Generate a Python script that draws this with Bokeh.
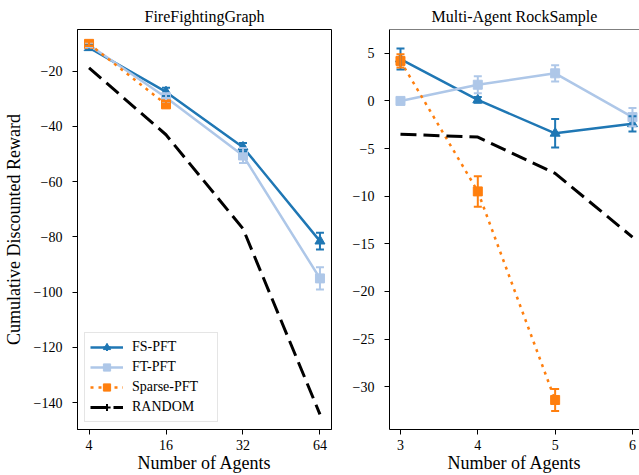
from bokeh.plotting import figure
from bokeh.models import (ColumnDataSource, Whisker, TeeHead, FixedTicker, Legend,
                          LegendItem, Range1d, Span)
from bokeh.layouts import row
from bokeh.embed import file_html
from bokeh.resources import INLINE

FONT = "Liberation Serif"

# ---------------- data ----------------
ff_agents = ["4", "16", "32", "64"]
ff_fs_mean = [-11.5, -27.5, -47.5, -81.5]
ff_fs_err = [0.8, 1.5, 1.5, 3.0]
ff_ft_mean = [-10.5, -29.5, -50.5, -95.0]
ff_ft_err = [0.8, 1.5, 2.7, 4.0]
ff_sparse_agents = ["4", "16"]
ff_sparse_mean = [-10.1, -32.0]
ff_sparse_err = [0.8, 1.2]
ff_random = [-18.8, -43.0, -77.0, -144.2]
ff_yticks = [-140, -120, -100, -80, -60, -40, -20]

rs_agents = [3, 4, 5, 6]
rs_fs_mean = [4.4, 0.1, -3.4, -2.4]
rs_fs_err = [1.1, 0.3, 1.5, 0.8]
rs_ft_mean = [0.0, 1.7, 2.9, -1.7]
rs_ft_err = [0.3, 0.9, 0.85, 0.95]
rs_sparse_agents = [3, 4, 5]
rs_sparse_mean = [4.2, -9.5, -31.4]
rs_sparse_err = [0.7, 1.6, 1.15]
rs_random = [-3.5, -3.8, -7.6, -14.3]
rs_yticks = [-30, -25, -20, -15, -10, -5, 0, 5]

C_FS = "#1f77b4"
C_FT = "#aec7e8"
C_SP = "#ff7f0e"
C_RD = "#000000"

H = 475


def minus(v):
    return ("\u2212" + str(abs(v))) if v < 0 else str(v)


def make_fig(width, min_left, min_right, xr, yr, title):
    p = figure(width=width, height=H, x_range=xr, y_range=yr,
               output_backend="svg", toolbar_location=None,
               min_border_left=min_left, min_border_right=min_right,
               min_border_top=27, min_border_bottom=46)
    p.title.text = title
    p.title.align = "center"
    p.title.text_font = FONT
    p.title.text_font_size = "16px"
    p.title.text_font_style = "normal"
    p.title.text_color = "black"
    p.title.standoff = 10
    p.xgrid.visible = False
    p.ygrid.visible = False
    p.outline_line_color = "black"
    p.outline_line_width = 1
    p.outline_line_alpha = 1
    for ax in (p.xaxis[0], p.yaxis[0]):
        ax.axis_line_color = "black"
        ax.major_tick_line_color = "black"
        ax.major_tick_in = 0
        ax.major_tick_out = 5
        ax.minor_tick_line_color = None
        ax.major_label_text_font = FONT
        ax.major_label_text_font_size = "14px"
        ax.major_label_text_color = "black"
        ax.axis_label_text_font = FONT
        ax.axis_label_text_font_size = "18px"
        ax.axis_label_text_font_style = "normal"
        ax.axis_label_text_color = "black"
    p.xaxis.major_label_standoff = 5
    p.xaxis.axis_label = "Number of Agents"
    p.xaxis.axis_label_text_line_height = 0.65
    p.xaxis.axis_label_standoff = 0
    p.yaxis.major_label_standoff = 10
    p.yaxis.axis_label_standoff = 7
    return p


def draw_series(p, x, mean, err, color, marker, msize, dash, lw):
    src = ColumnDataSource(dict(
        x=x, y=mean,
        upper=[m + e for m, e in zip(mean, err)],
        lower=[m - e for m, e in zip(mean, err)]))
    ln = p.line("x", "y", source=src, line_color=color, line_width=lw,
                line_dash=dash)
    wk = Whisker(source=src, base="x", upper="upper", lower="lower",
                 dimension="height", line_color=color, line_width=2,
                 level="glyph",
                 upper_head=TeeHead(size=8, line_color=color, line_width=2),
                 lower_head=TeeHead(size=8, line_color=color, line_width=2))
    p.add_layout(wk)
    mk = p.scatter("x", "y", source=src, marker=marker, size=msize,
                   fill_color=color, line_color=color)
    return ln, mk


def legend_bar(p, color):
    s = ColumnDataSource(dict(x=[float("nan")], y=[float("nan")]))
    return p.scatter("x", "y", source=s, marker="cross", size=10,
                     line_color=color, line_width=2)


# ---------------- left panel ----------------
ff_x = list(range(len(ff_agents)))
ff_sx = [ff_agents.index(a) for a in ff_sparse_agents]
left = make_fig(341, 77, 10, Range1d(-0.15, 3.15), Range1d(-149.7, -4.9),
                "FireFightingGraph")
left.yaxis.axis_label = "Cumulative Discounted Reward"
left.xaxis.ticker = FixedTicker(ticks=ff_x)
left.xaxis.major_label_overrides = {i: a for i, a in zip(ff_x, ff_agents)}
left.yaxis.ticker = FixedTicker(ticks=ff_yticks)
left.yaxis.major_label_overrides = {v: minus(v) for v in ff_yticks}

l_fs, m_fs = draw_series(left, ff_x, ff_fs_mean, ff_fs_err, C_FS, "triangle", 10, "solid", 2.5)
l_ft, m_ft = draw_series(left, ff_x, ff_ft_mean, ff_ft_err, C_FT, "square", 9, "solid", 2.5)
l_sp, m_sp = draw_series(left, ff_sx, ff_sparse_mean, ff_sparse_err, C_SP, "square", 9, "3 5", 2.5)
l_rd = left.line(ff_x, ff_random, line_color=C_RD, line_width=3, line_dash="16 7")

b_fs = legend_bar(left, C_FS)
b_ft = legend_bar(left, C_FT)
b_sp = legend_bar(left, C_SP)
b_rd = legend_bar(left, C_RD)

legend = Legend(items=[
    LegendItem(label="FS-PFT", renderers=[l_fs, b_fs, m_fs]),
    LegendItem(label="FT-PFT", renderers=[l_ft, b_ft, m_ft]),
    LegendItem(label="Sparse-PFT", renderers=[l_sp, b_sp, m_sp]),
    LegendItem(label="RANDOM", renderers=[l_rd, b_rd]),
], location="bottom_left", margin=7, padding=5, spacing=2,
    glyph_width=33, glyph_height=18, label_height=18, label_standoff=9,
    label_width=80, label_text_font=FONT, label_text_font_size="14px",
    label_text_color="black", border_line_color="#cccccc",
    border_line_width=1, background_fill_alpha=0.8)
left.add_layout(legend)

# ---------------- right panel ----------------
right = make_fig(298, 48, 0, Range1d(2.858, 6.091), Range1d(-34.5, 7.5),
                 "Multi-Agent RockSample")
right.outline_line_color = None
right.add_layout(Span(location=7.5, dimension="width", line_color="black",
                      line_width=1))
right.xaxis.ticker = FixedTicker(ticks=rs_agents)
right.yaxis.ticker = FixedTicker(ticks=rs_yticks)
right.yaxis.major_label_overrides = {v: minus(v) for v in rs_yticks}

draw_series(right, rs_agents, rs_fs_mean, rs_fs_err, C_FS, "triangle", 10, "solid", 2.5)
draw_series(right, rs_agents, rs_ft_mean, rs_ft_err, C_FT, "square", 9, "solid", 2.5)
draw_series(right, rs_sparse_agents, rs_sparse_mean, rs_sparse_err, C_SP, "square", 9, "3 5", 2.5)
right.line(rs_agents, rs_random, line_color=C_RD, line_width=3, line_dash="16 7")

layout = row(left, right)
open("out.html", "w").write(file_html(layout, INLINE))
